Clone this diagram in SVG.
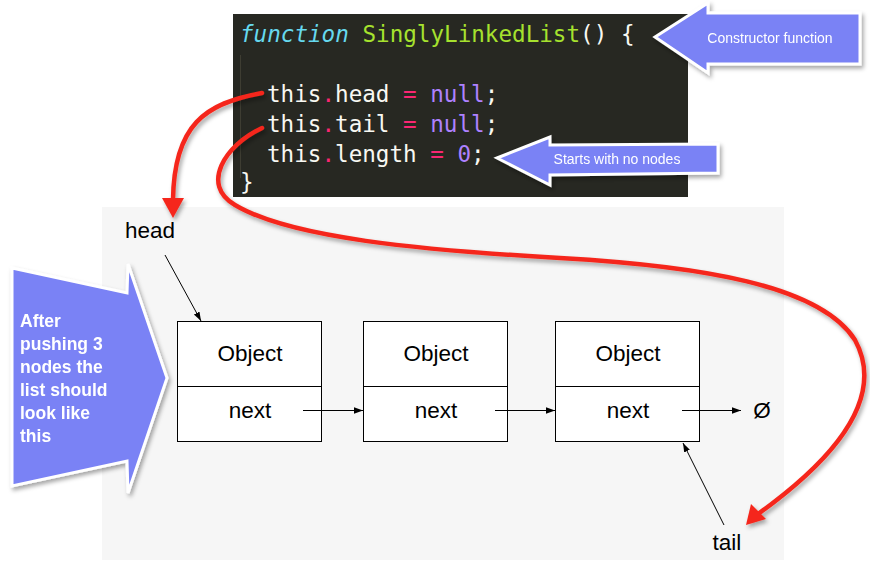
<svg xmlns="http://www.w3.org/2000/svg" width="870" height="570" viewBox="0 0 870 570">
<defs>
<style>
.code{font-family:"DejaVu Sans Mono","Liberation Mono",monospace;font-size:22.6px;fill:#f8f8f2}
.kw{fill:#66d9ef;font-style:italic}
.fn{fill:#a6e22e}
.op{fill:#f92672}
.num{fill:#ae81ff}
.lbl{font-family:"Liberation Sans",Arial,sans-serif;font-size:22.5px;fill:#000}
.call{fill:#7a82f5;stroke:#fff;stroke-width:3;stroke-linejoin:miter}
.ct{font-family:"Liberation Sans",Arial,sans-serif;font-size:14px;fill:#fff}
.bt{font-family:"Liberation Sans",Arial,sans-serif;font-size:17.5px;font-weight:bold;fill:#fff}
.box{fill:#fff;stroke:#000;stroke-width:1}
.ln{stroke:#000;stroke-width:1;fill:none;marker-end:url(#ah)}
.red{stroke:#f5281c;stroke-width:4.5;fill:none;stroke-linecap:round}
.redh{fill:#f5281c}
</style>
<marker id="ah" viewBox="0 0 10 10" refX="10" refY="5" markerWidth="9" markerHeight="9" markerUnits="userSpaceOnUse" orient="auto">
<path d="M0,1.5 L10,5 L0,8.5 Z" fill="#000"/>
</marker>
<filter id="sh" x="-20%" y="-20%" width="140%" height="140%">
<feDropShadow dx="2" dy="3" stdDeviation="2" flood-color="#000" flood-opacity="0.35"/>
</filter>
</defs>
<rect x="102" y="207" width="682" height="353" fill="#f6f6f6"/>
<g id="code">
<rect x="233" y="14" width="455" height="183" fill="#272822"/>
<line x1="240.5" y1="55" x2="240.5" y2="178" stroke="#3e3d32" stroke-width="1"/>
<text class="code" x="240" y="42"><tspan class="kw">function</tspan> <tspan class="fn">SinglyLinkedList</tspan>() {</text>
<text class="code" x="267" y="102">this<tspan class="op">.</tspan>head <tspan class="op">=</tspan> <tspan class="num">null</tspan>;</text>
<text class="code" x="267" y="132">this<tspan class="op">.</tspan>tail <tspan class="op">=</tspan> <tspan class="num">null</tspan>;</text>
<text class="code" x="267" y="162">this<tspan class="op">.</tspan>length <tspan class="op">=</tspan> <tspan class="num">0</tspan>;</text>
<text class="code" x="240" y="190">}</text>
</g>
<g id="callout-constructor" filter="url(#sh)">
<polygon class="call" points="655,37 708,3 708,13 860,13 860,64 708,64 708,73"/>
<text class="ct" x="770" y="43" text-anchor="middle">Constructor function</text>
</g>
<g id="callout-starts" filter="url(#sh)">
<polygon class="call" points="497,158 550,137 550,145 718,144 718,173 550,175 550,185"/>
<text class="ct" x="617" y="164" text-anchor="middle">Starts with no nodes</text>
</g>
<g id="callout-after" filter="url(#sh)">
<polygon class="call" points="12,268 127,293 128,264 167,378 128,493 127,461 12,486"/>
<text class="bt" x="20" y="327">After</text>
<text class="bt" x="20" y="350">pushing 3</text>
<text class="bt" x="20" y="373">nodes the</text>
<text class="bt" x="20" y="396">list should</text>
<text class="bt" x="20" y="419">look like</text>
<text class="bt" x="20" y="442">this</text>
</g>
<g id="node1">
<rect class="box" x="177.5" y="321.5" width="144" height="120"/>
<line x1="177.5" y1="386.5" x2="321.5" y2="386.5" stroke="#000"/>
<text class="lbl" x="250" y="361" text-anchor="middle">Object</text>
<text class="lbl" x="250" y="418" text-anchor="middle">next</text>
</g>
<g id="node2">
<rect class="box" x="363.5" y="321.5" width="144" height="120"/>
<line x1="363.5" y1="386.5" x2="507.5" y2="386.5" stroke="#000"/>
<text class="lbl" x="436" y="361" text-anchor="middle">Object</text>
<text class="lbl" x="436" y="418" text-anchor="middle">next</text>
</g>
<g id="node3">
<rect class="box" x="555.5" y="321.5" width="144" height="120"/>
<line x1="555.5" y1="386.5" x2="699.5" y2="386.5" stroke="#000"/>
<text class="lbl" x="628" y="361" text-anchor="middle">Object</text>
<text class="lbl" x="628" y="418" text-anchor="middle">next</text>
</g>
<g id="null"><text class="lbl" x="762" y="418" text-anchor="middle">Ø</text></g>
<g id="head-label"><text class="lbl" x="150" y="238" text-anchor="middle">head</text></g>
<g id="tail-label"><text class="lbl" x="727" y="550" text-anchor="middle">tail</text></g>
<g id="connectors">
<line class="ln" x1="303" y1="410.5" x2="363" y2="410.5"/>
<line class="ln" x1="495" y1="410.5" x2="555" y2="410.5"/>
<line class="ln" x1="682" y1="410.5" x2="741" y2="410.5"/>
<line class="ln" x1="165" y1="255" x2="201" y2="321"/>
<line class="ln" x1="724" y1="525" x2="683" y2="443"/>
<g filter="url(#sh)">
<path class="red" d="M262 93 C205 103 174 125 173 200"/>
<polygon class="redh" points="162,198 184,198 173,218"/>
<path class="red" d="M262 128 C225 145 200 185 235 205 C290 238 420 250 560 258 C700 266 820 285 855 340 C885 395 840 455 758 514"/>
<polygon class="redh" points="746,525 751,504 766,519"/>
</g>
</g>
</svg>
